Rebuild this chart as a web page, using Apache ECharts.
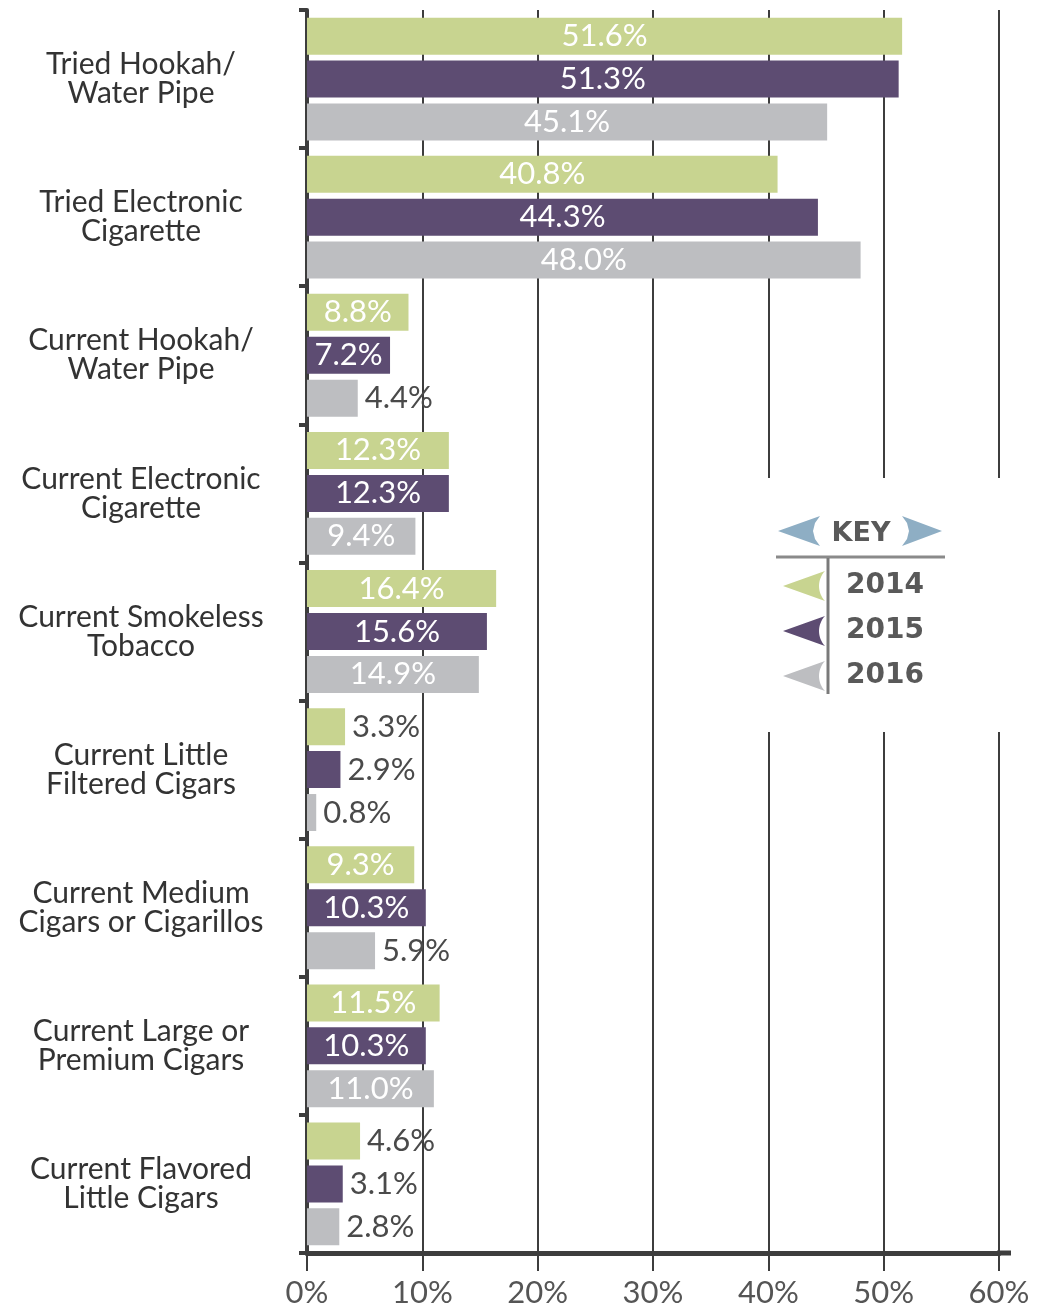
<!DOCTYPE html>
<html>
<head>
<meta charset="utf-8">
<script src="https://cdn.jsdelivr.net/npm/echarts@6/dist/echarts.min.js"></script>
<style>
  html, body { margin: 0; padding: 0; background: #fff; }
  #main { width: 1038px; height: 1313px; }
</style>
</head>
<body>
<div id="main"></div>
<script>
// categories, top to bottom
const categories = [
  'Tried Hookah/\nWater Pipe',
  'Tried Electronic\nCigarette',
  'Current Hookah/\nWater Pipe',
  'Current Electronic\nCigarette',
  'Current Smokeless\nTobacco',
  'Current Little\nFiltered Cigars',
  'Current Medium\nCigars or Cigarillos',
  'Current Large or\nPremium Cigars',
  'Current Flavored\nLittle Cigars'
];
const years = ['2014', '2015', '2016'];
const values2014 = [51.6, 40.8, 8.8, 12.3, 16.4, 3.3, 9.3, 11.5, 4.6];
const values2015 = [51.3, 44.3, 7.2, 12.3, 15.6, 2.9, 10.3, 10.3, 3.1];
const values2016 = [45.1, 48.0, 4.4, 9.4, 14.9, 0.8, 5.9, 11.0, 2.8];
const xTicks = [0, 10, 20, 30, 40, 50, 60];

const colors = ['#c8d490', '#5d4c72', '#bdbec1'];
const font = 'Lato';
const dark = '#3d3d3d';

// small bars get their label outside, the rest centred inside in white
const toData = (vals) => vals.map(v => ({
  value: v,
  label: v >= 7
    ? { position: 'inside', color: '#ffffff' }
    : { position: 'right', color: '#4a4a4a', distance: 7 }
}));

const allValues = [values2014, values2015, values2016];

const chart = echarts.init(document.getElementById('main'));
chart.setOption({
  animation: false,
  backgroundColor: '#ffffff',
  grid: { left: 307, right: 39, top: 10, bottom: 60, containLabel: false },
  legend: {
    data: years,
    orient: 'vertical',
    left: 778,
    top: 566,
    itemWidth: 42,
    itemHeight: 30,
    itemGap: 15,
    z: 10,
    icon: 'path://M0,15 L42,0 C38,4 36,10 36,15 C36,20 38,26 42,30 Z',
    textStyle: {
      fontFamily: 'DejaVu Sans',
      fontWeight: 'bold',
      fontSize: 28,
      color: '#595959',
      padding: [0, 0, 0, 16]
    }
  },
  xAxis: {
    type: 'value',
    min: xTicks[0],
    max: xTicks[xTicks.length - 1],
    interval: 10,
    axisLine: { show: true, lineStyle: { color: dark, width: 5 } },
    axisTick: { show: true, length: 18, lineStyle: { color: dark, width: 2 } },
    splitLine: { show: true, lineStyle: { color: dark, width: 2 } },
    axisLabel: {
      formatter: '{value}%',
      fontFamily: font,
      fontSize: 31,
      color: '#555555',
      margin: 24
    }
  },
  yAxis: {
    type: 'category',
    data: categories,
    inverse: true,
    axisLine: { show: true, lineStyle: { color: dark, width: 4 } },
    axisTick: { show: true, length: 8, lineStyle: { color: dark, width: 4 } },
    axisLabel: {
      align: 'center',
      margin: 166,
      fontFamily: font,
      fontSize: 30,
      lineHeight: 29,
      color: '#333333'
    }
  },
  series: years.map((y, i) => ({
    name: y,
    type: 'bar',
    data: toData(allValues[i]),
    barWidth: 37,
    barGap: '16%',
    itemStyle: { color: colors[i] },
    label: {
      show: true,
      formatter: (p) => p.value.toFixed(1) + '%',
      fontFamily: font,
      fontSize: 31
    }
  })),
  graphic: [
    // white panel behind the key, hides the grid lines there
    { type: 'rect', z: 3, shape: { x: 758, y: 478, width: 255, height: 254 }, style: { fill: '#ffffff' } },
    // axis line runs a little past the last tick
    { type: 'line', z: 10, shape: { x1: 997, y1: 1253, x2: 1011, y2: 1253 }, style: { stroke: dark, lineWidth: 5 } },
    {
      type: 'polygon', z: 10,
      shape: { points: [[778, 531], [820, 516], [815, 523], [813, 531], [815, 539], [820, 546]] },
      style: { fill: '#8eaec4' }
    },
    {
      type: 'polygon', z: 10,
      shape: { points: [[942, 531], [902, 516], [907, 523], [909, 531], [907, 539], [902, 546]] },
      style: { fill: '#8eaec4' }
    },
    {
      type: 'text', z: 10, x: 861, y: 534,
      style: {
        text: 'KEY', fill: '#595959', font: 'bold 27px "DejaVu Sans"',
        align: 'center', verticalAlign: 'middle'
      }
    },
    { type: 'line', z: 10, shape: { x1: 776, y1: 557, x2: 945, y2: 557 }, style: { stroke: '#8a8a8a', lineWidth: 3 } },
    { type: 'line', z: 10, shape: { x1: 828, y1: 558, x2: 828, y2: 694 }, style: { stroke: '#7a7a7a', lineWidth: 3 } }
  ]
});
</script>
</body>
</html>
